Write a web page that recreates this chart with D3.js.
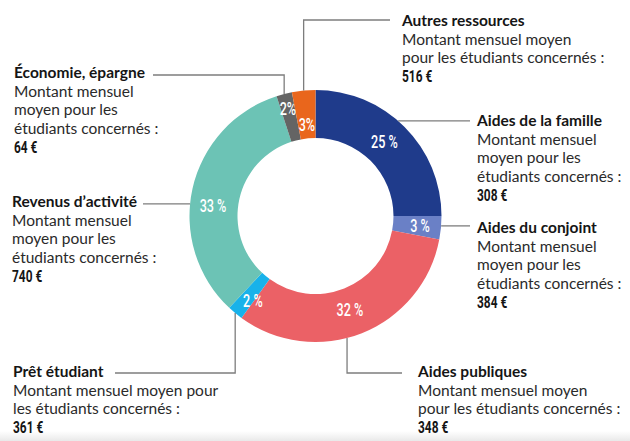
<!DOCTYPE html>
<html><head><meta charset="utf-8">
<script src="https://cdn.jsdelivr.net/npm/d3@7"></script>
<style>html,body{margin:0;padding:0;background:#fff;} svg{display:block}</style>
</head><body>
<svg id="chart" width="630" height="441"></svg>
<script>
// ---- data ----
const categories = ["Aides de la famille","Aides du conjoint","Aides publiques","Prêt étudiant","Revenus d’activité","Économie, épargne","Autres ressources"];
const shares = [25, 3, 32, 2, 33, 2, 3];
const shareLabels = ["25 %","3 %","32 %","2 %","33 %","2%","3%"];
const descriptions = [
  ["Montant mensuel","moyen pour les","étudiants concernés :"],
  ["Montant mensuel","moyen pour les","étudiants concernés :"],
  ["Montant mensuel moyen","pour les étudiants concernés :"],
  ["Montant mensuel moyen pour","les étudiants concernés :"],
  ["Montant mensuel","moyen pour les","étudiants concernés :"],
  ["Montant mensuel","moyen pour les","étudiants concernés :"],
  ["Montant mensuel moyen","pour les étudiants concernés :"]
];
const amounts = ["308 €","384 €","348 €","361 €","740 €","64 €","516 €"];

// ---- layout ----
const W = 630, H = 441, cx = 315.5, cy = 216, R = 126, R0 = 78;
const lineH = 18.5;
const palette = ["#1f3b8b","#6a80c6","#eb6166","#18b2ea","#6cc3b5","#646464","#e9661c"];
const color = d3.scaleOrdinal().domain(categories).range(palette);

// text position, leader route, label tweak per category
const layout = {
  "Aides de la famille": {x:477, y:126, type:"h", deg:41, endX:470, lblDeg:-2, lblR:101},
  "Aides du conjoint":   {x:477, y:233, type:"h", deg:94.5, endX:470, lblDeg:0, lblR:105},
  "Aides publiques":     {x:418, y:377, type:"v", deg:165.5, elbowY:373, endX:402, lblDeg:1.5, lblR:100},
  "Prêt étudiant":       {x:13,  y:377, type:"v", deg:null, elbowY:373, endX:115, lblDeg:-3, lblR:105},
  "Revenus d’activité":  {x:12,  y:207, type:"h", deg:275.5, endX:143, lblDeg:-7, lblR:103},
  "Économie, épargne":   {x:14,  y:78,  type:"v", deg:null, elbowY:75, endX:153, lblDeg:0, lblR:111},
  "Autres ressources":   {x:402, y:26,  type:"v", deg:null, elbowY:20, endX:390, lblDeg:0, lblR:92}
};

const svg = d3.select("#chart");
const defs = svg.append("defs");
const grad = defs.append("linearGradient").attr("id","shade").attr("x1",0).attr("y1",0).attr("x2",0).attr("y2",1);
grad.append("stop").attr("offset","0%").attr("stop-color","#ffffff");
grad.append("stop").attr("offset","100%").attr("stop-color","#e9e9e9");
svg.append("rect").attr("width",W).attr("height",H).attr("fill","#fff");
svg.append("rect").attr("x",0).attr("y",H-10).attr("width",W).attr("height",10).attr("fill","url(#shade)");

const pie = d3.pie().sort(null).value(d => d.share);
const data = categories.map((c,i) => ({cat:c, share:shares[i], label:shareLabels[i], desc:descriptions[i], amount:amounts[i]}));
const arcs = pie(data);
const arc = d3.arc().innerRadius(R0).outerRadius(R);

const g = svg.append("g").attr("transform", `translate(${cx},${cy})`);
g.selectAll("path.slice").data(arcs).join("path")
  .attr("class","slice")
  .attr("d", arc)
  .attr("fill", d => color(d.data.cat));

const polar = (deg, rad) => {
  const a = deg * Math.PI / 180;
  return [rad * Math.sin(a), -rad * Math.cos(a)];
};
const midDeg = d => (d.startAngle + d.endAngle) / 2 * 180 / Math.PI;

// percentage labels
g.selectAll("text.pct").data(arcs).join("text")
  .attr("class","pct")
  .attr("transform", d => {
    const L = layout[d.data.cat];
    const p = polar(midDeg(d) + L.lblDeg, L.lblR);
    return `translate(${p[0]},${p[1]}) scale(0.72,1)`;
  })
  .attr("text-anchor","middle")
  .attr("dy","0.36em")
  .attr("font-family","Roboto, 'DejaVu Sans', sans-serif")
  .attr("font-weight",500)
  .attr("font-size",17.5)
  .attr("fill","#fff")
  .text(d => d.data.label);

// leader lines
const lineGen = d3.line();
svg.selectAll("path.leader").data(arcs).join("path")
  .attr("class","leader")
  .attr("fill","none")
  .attr("stroke","#7d7d7d")
  .attr("stroke-width",1.3)
  .attr("d", d => {
    const L = layout[d.data.cat];
    const deg = L.deg == null ? midDeg(d) : L.deg;
    const p = polar(deg, R);
    const ax = cx + p[0], ay = cy + p[1];
    const pts = L.type === "h"
      ? [[ax, ay], [L.endX, ay]]
      : [[ax, ay], [ax, L.elbowY], [L.endX, L.elbowY]];
    return lineGen(pts);
  });

// text blocks
const blocks = svg.selectAll("g.block").data(arcs).join("g")
  .attr("class","block")
  .attr("transform", d => `translate(${layout[d.data.cat].x},${layout[d.data.cat].y})`);

blocks.append("text")
  .attr("font-family","Lato, 'Open Sans', sans-serif")
  .attr("font-weight",700)
  .attr("font-size",15.5)
  .attr("fill","#151515")
  .text(d => d.data.cat);

blocks.each(function(d){
  const b = d3.select(this);
  d.data.desc.forEach((line, i) => {
    b.append("text")
      .attr("y", (i + 1) * lineH)
      .attr("font-family","Lato, 'Open Sans', sans-serif")
      .attr("font-size",15.5)
      .attr("fill","#2a2a2a")
      .text(line);
  });
  b.append("text")
    .attr("transform", `translate(0,${(d.data.desc.length + 1) * lineH + 0.5}) scale(0.7,1)`)
    .attr("font-family","Roboto, 'DejaVu Sans', sans-serif")
    .attr("font-weight",700)
    .attr("font-size",17)
    .attr("fill","#151515")
    .text(d.data.amount);
});
</script>
</body></html>
